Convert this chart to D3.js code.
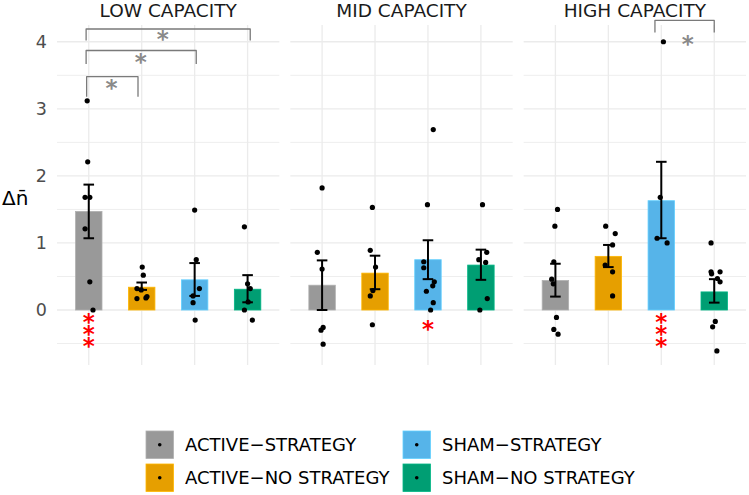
<!DOCTYPE html>
<html>
<head>
<meta charset="utf-8">
<script src="https://cdn.jsdelivr.net/npm/d3@7"></script>
<style>
  html, body { margin: 0; padding: 0; background: #ffffff; }
  svg { display: block; font-family: "DejaVu Sans", Verdana, sans-serif; }
</style>
</head>
<body>
<script>
// ---------------- DATA ----------------
const facets = ["LOW CAPACITY", "MID CAPACITY", "HIGH CAPACITY"];
const groups = ["ACTIVE\u2212STRATEGY", "ACTIVE\u2212NO STRATEGY", "SHAM\u2212STRATEGY", "SHAM\u2212NO STRATEGY"];
const groupColors = ["#999999", "#E69F00", "#56B4E9", "#009E73"];
const yTicks = [0, 1, 2, 3, 4];

// bar means per facet (one value per group)
const meansLow  = [1.47, 0.34, 0.45, 0.31];
const meansMid  = [0.37, 0.55, 0.75, 0.67];
const meansHigh = [0.44, 0.80, 1.63, 0.27];

// error bar lower / upper per facet
const errLoLow  = [1.07, 0.30, 0.21, 0.115];
const errHiLow  = [1.87, 0.41, 0.70, 0.52];
const errLoMid  = [0.00, 0.31, 0.46, 0.45];
const errHiMid  = [0.74, 0.81, 1.04, 0.90];
const errLoHigh = [0.20, 0.64, 1.07, 0.11];
const errHiHigh = [0.69, 0.97, 2.21, 0.46];

// individual points: [value, jitter (category units)]
const pointsLow = [
  [[3.12,-0.03],[2.21,-0.02],[1.68,-0.07],[1.68,0.02],[1.21,-0.07],[0.42,0.02],[0.0,0.08]],
  [[0.64,0.01],[0.52,0.03],[0.32,-0.09],[0.30,-0.01],[0.17,-0.09],[0.18,0.08],[0.20,0.10]],
  [[1.49,0.0],[0.75,0.03],[0.32,0.09],[0.21,-0.03],[0.11,-0.03],[-0.15,0.01]],
  [[1.24,-0.06],[0.39,0.0],[0.32,0.05],[0.12,0.01],[0.0,-0.06],[-0.15,0.09]]
];
const pointsMid = [
  [[1.82,0.0],[0.86,-0.09],[0.61,0.0],[-0.26,0.02],[-0.30,-0.02],[-0.51,0.02]],
  [[1.53,-0.05],[0.89,-0.09],[0.64,0.01],[0.29,-0.04],[0.21,-0.09],[-0.22,-0.05]],
  [[2.69,0.10],[1.57,-0.01],[0.72,-0.08],[0.63,-0.08],[0.42,0.12],[0.36,0.09],[0.28,-0.03],[0.11,0.10],[0.0,0.05]],
  [[1.57,0.03],[0.86,0.11],[0.75,-0.04],[0.71,0.09],[0.17,0.12],[0.0,-0.02]]
];
const pointsHigh = [
  [[1.50,0.04],[1.25,-0.01],[0.72,-0.03],[0.46,-0.07],[0.39,-0.04],[-0.11,0.02],[-0.29,-0.03],[-0.36,0.05]],
  [[1.25,-0.05],[1.14,0.13],[0.97,0.08],[0.67,-0.06],[0.57,0.08],[0.21,0.08]],
  [[4.00,0.04],[1.68,-0.02],[1.07,-0.08],[1.00,0.11]],
  [[1.00,-0.06],[0.57,-0.06],[0.57,0.11],[0.54,-0.05],[0.47,0.06],[0.42,0.11],[-0.17,0.02],[-0.25,-0.03],[-0.61,0.05]]
];

// significance brackets (between groups): facet, xmin, xmax (group index, 1-based), top, tip, label pos
const bracketFacet = [0, 0, 0, 2];
const bracketXmin  = [0.96, 0.95, 0.95, 2.88];
const bracketXmax  = [1.93, 3.03, 4.05, 4.00];
const bracketTop   = [3.48, 3.87, 4.19, 4.32];
const bracketTip   = [3.18, 3.67, 4.02, 4.14];
const bracketLabX  = [1.43, 1.98, 2.40, 3.50];
const bracketLabY  = [3.34, 3.72, 4.07, 4.00];
const bracketLabel = ["*", "*", "*", "*"];

// significance vs zero (red stars under bars)
const zeroSigFacet = [0, 1, 2];
const zeroSigGroup = [1, 3, 3];
const zeroSigLabel = ["***", "*", "***"];
const zeroSigY     = [-0.33, -0.26, -0.33];

// ---------------- CHART ----------------
const W = 749, H = 495;
const svg = d3.select("body").append("svg").attr("width", W).attr("height", H);

const y = d3.scaleLinear().domain([-0.82, 4.25]).range([365, 25]);
const fx = d3.scaleBand().domain(facets).range([57, 746]).paddingInner(0.047);
const pw = fx.bandwidth();
const x = d3.scaleLinear().domain([0.4, 4.6]).range([0, pw]);
const unit = x(1) - x(0);

const means = [meansLow, meansMid, meansHigh];
const errLo = [errLoLow, errLoMid, errLoHigh];
const errHi = [errHiLow, errHiMid, errHiHigh];
const points = [pointsLow, pointsMid, pointsHigh];

const gridMajor = yTicks;
const gridMinor = [-0.5, 0.5, 1.5, 2.5, 3.5];

facets.forEach((f, fi) => {
  const g = svg.append("g").attr("transform", `translate(${fx(f)},0)`);
  // grid
  g.selectAll(".gmin").data(gridMinor).join("line")
    .attr("x1", 0).attr("x2", pw)
    .attr("y1", d => y(d)).attr("y2", d => y(d))
    .attr("stroke", "#eeeeee").attr("stroke-width", 1);
  g.selectAll(".gmaj").data(gridMajor).join("line")
    .attr("x1", 0).attr("x2", pw)
    .attr("y1", d => y(d)).attr("y2", d => y(d))
    .attr("stroke", "#ebebeb").attr("stroke-width", 1.3);
  g.selectAll(".gv").data(groups).join("line")
    .attr("x1", (d, i) => x(i + 1)).attr("x2", (d, i) => x(i + 1))
    .attr("y1", y.range()[1]).attr("y2", y.range()[0])
    .attr("stroke", "#ebebeb").attr("stroke-width", 1.3);

  // strip title
  svg.append("text")
    .attr("x", fx(f) + pw / 2).attr("y", 17)
    .attr("text-anchor", "middle")
    .attr("font-size", 18.5).attr("fill", "#1a1a1a")
    .text(f);

  // bars
  g.selectAll(".bar").data(means[fi]).join("rect")
    .attr("x", (d, i) => x(i + 1) - unit * 0.25)
    .attr("width", unit * 0.5)
    .attr("y", d => y(Math.max(d, 0)))
    .attr("height", d => Math.abs(y(d) - y(0)))
    .attr("fill", (d, i) => groupColors[i])
    .attr("stroke", (d, i) => d3.color(groupColors[i]).brighter(0.4))
    .attr("stroke-width", 0.8);

  // error bars
  means[fi].forEach((m, i) => {
    const cx = x(i + 1), lo = errLo[fi][i], hi = errHi[fi][i];
    const cw = unit * 0.1;
    g.append("line").attr("x1", cx).attr("x2", cx).attr("y1", y(lo)).attr("y2", y(hi))
      .attr("stroke", "#000").attr("stroke-width", 2);
    g.append("line").attr("x1", cx - cw).attr("x2", cx + cw).attr("y1", y(lo)).attr("y2", y(lo))
      .attr("stroke", "#000").attr("stroke-width", 2);
    g.append("line").attr("x1", cx - cw).attr("x2", cx + cw).attr("y1", y(hi)).attr("y2", y(hi))
      .attr("stroke", "#000").attr("stroke-width", 2);
  });

  // points
  points[fi].forEach((pts, i) => {
    g.selectAll(null).data(pts).join("circle")
      .attr("cx", d => x(i + 1 + d[1]))
      .attr("cy", d => y(d[0]))
      .attr("r", 2.6).attr("fill", "#000");
  });
});

// brackets
const starFs = 23;
bracketFacet.forEach((fi, k) => {
  const ox = fx(facets[fi]);
  const x1 = ox + x(bracketXmin[k]), x2 = ox + x(bracketXmax[k]);
  svg.append("path")
    .attr("d", `M${x1},${y(bracketTip[k])}V${y(bracketTop[k])}H${x2}V${y(bracketTip[k])}`)
    .attr("fill", "none").attr("stroke", "#7a7a7a").attr("stroke-width", 1.3)
    .attr("stroke-linejoin", "round");
  svg.append("text")
    .attr("x", ox + x(bracketLabX[k]))
    .attr("y", y(bracketLabY[k]) + 0.43 * starFs)
    .attr("text-anchor", "middle").attr("font-size", starFs)
    .attr("font-weight", "bold")
    .attr("fill", "#8a8a8a").text(bracketLabel[k]);
});

// red stars vs zero (stacked vertically inside one text element)
zeroSigFacet.forEach((fi, k) => {
  const ox = fx(facets[fi]);
  const cx = ox + x(zeroSigGroup[k]);
  const label = zeroSigLabel[k];
  const n = label.length, gap = 12;
  const y0 = y(zeroSigY[k]) - (n - 1) / 2 * gap + 0.43 * starFs;
  const xs = d3.range(n).map(() => cx.toFixed(2)).join(" ");
  const ys = d3.range(n).map(j => (y0 + j * gap).toFixed(2)).join(" ");
  svg.append("text")
    .attr("x", xs).attr("y", ys)
    .attr("text-anchor", "middle").attr("font-size", starFs)
    .attr("font-weight", "bold").attr("fill", "#ff0000")
    .text(label);
});

// y axis
const yAxis = d3.axisLeft(y).tickValues(yTicks).tickSize(0).tickPadding(10).tickFormat(d3.format("d"));
const ya = svg.append("g").attr("transform", `translate(${fx(facets[0])},0)`).call(yAxis);
ya.select(".domain").remove();
ya.selectAll("text").attr("font-size", 17.5).attr("fill", "#4d4d4d")
  .attr("font-family", "DejaVu Sans, Verdana, sans-serif");

// y label
svg.append("text").attr("x", 2).attr("y", 205)
  .attr("font-size", 20).attr("fill", "#000")
  .text("\u0394n\u0304");

// legend
const legX = [146, 403], legY = [431, 464], keyS = 27.5;
groups.forEach((gname, i) => {
  const col = Math.floor(i / 2), row = i % 2;
  const lx = legX[col], ly = legY[row];
  const lg = svg.append("g");
  lg.append("rect").attr("x", lx).attr("y", ly).attr("width", keyS).attr("height", keyS)
    .attr("fill", groupColors[i])
    .attr("stroke", d3.color(groupColors[i]).brighter(0.4)).attr("stroke-width", 0.8);
  lg.append("circle").attr("cx", lx + keyS / 2).attr("cy", ly + keyS / 2).attr("r", 1.8).attr("fill", "#000");
  lg.append("text").attr("x", lx + keyS + 11.5).attr("y", ly + keyS / 2 + 6.5)
    .attr("font-size", 18).attr("fill", "#000").text(gname);
});
</script>
</body>
</html>
